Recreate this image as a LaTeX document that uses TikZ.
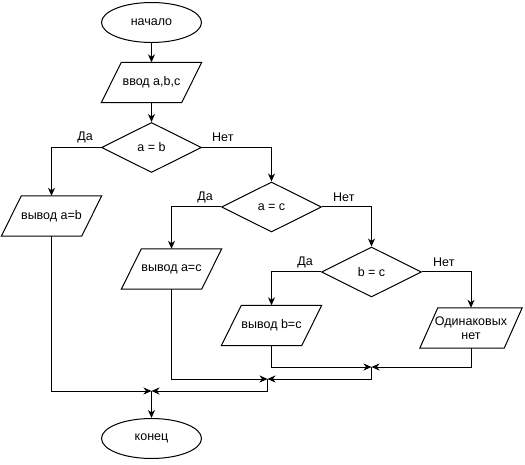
\documentclass[tikz,border=0pt]{standalone}
\usepackage{fontspec}
\setmainfont{Liberation Sans}
\usetikzlibrary{shapes.geometric,arrows.meta,calc}
\begin{document}
\begin{tikzpicture}[x=1pt,y=-1pt,
  every node/.style={font=\fontsize{12.5pt}{14pt}\selectfont, inner sep=0pt},
  term/.style={ellipse, draw, line width=1pt, minimum width=100pt, minimum height=40pt},
  iobox/.style={rectangle, minimum width=80pt, minimum height=40pt, align=center},
  cond/.style={diamond, draw, line width=1pt, aspect=2, minimum width=100pt, minimum height=50pt},
  lbl/.style={font=\fontsize{12.5pt}{14pt}\selectfont},
  conn/.style={line width=1pt, -{Stealth[length=8pt,width=7pt,inset=2.5pt]}},
  plain/.style={line width=1pt}]
\useasboundingbox (0,0) rectangle (525,465);
% nodes
\node[term] (start) at (151.5,22.5) {начало};
\node[iobox] (in) at (151.5,82.5) {ввод a,b,c};
\node[cond] (d1) at (151.5,147.5) {a = b};
\node[iobox] (o1) at (51.5,216) {вывод a=b};
\node[cond] (d2) at (271.5,207) {a = c};
\node[iobox] (o2) at (171.5,269) {вывод a=c};
\node[cond] (d3) at (371.5,272) {b = c};
\node[iobox] (o3) at (271.5,325.5) {вывод b=c};
\node[iobox, minimum width=84pt] (o4) at (471,328) {Одинаковых\\нет};
\node[term] (end) at (151.5,438.5) {конец};
\coordinate (j1) at (371.5,367);
\coordinate (j2) at (267.5,379);
\coordinate (j3) at (151.5,391);
% parallelogram outlines
\foreach \n in {in,o1,o2,o3}{
  \draw[plain, line join=miter] ([xshift=-10pt]\n.south west) -- ([xshift=-10pt]\n.south east)
    -- ([xshift=10pt]\n.north east) -- ([xshift=10pt]\n.north west) -- cycle;
}
\draw[plain, line join=miter] ([xshift=-9pt]o4.south west) -- ([xshift=-9pt]o4.south east)
    -- ([xshift=9pt]o4.north east) -- ([xshift=9pt]o4.north west) -- cycle;
% labels
\node[lbl, anchor=east] (l1) at ([xshift=-8pt,yshift=10pt]d1.west) {Да};
\node[lbl, anchor=west] (l2) at ([xshift=10pt,yshift=10pt]d1.east) {Нет};
\node[lbl, anchor=east] (l3) at ([xshift=-8pt,yshift=10pt]d2.west) {Да};
\node[lbl, anchor=west] (l4) at ([xshift=11pt,yshift=10pt]d2.east) {Нет};
\node[lbl, anchor=east] (l5) at ([xshift=-8pt,yshift=10pt]d3.west) {Да};
\node[lbl, anchor=west] (l6) at ([xshift=11pt,yshift=10pt]d3.east) {Нет};
% connectors
\draw[conn] (start) -- (in);
\draw[conn] (in) -- (d1);
\draw[conn] (d1.west) -| (o1.north);
\draw[conn] (d1.east) -| (d2.north);
\draw[conn] (d2.west) -| (o2.north);
\draw[conn] (d2.east) -| (d3.north);
\draw[conn] (d3.west) -| (o3.north);
\draw[conn] (d3.east) -| (o4.north);
\draw[conn] (o3.south) |- (j1);
\draw[conn] (o4.south) |- (j1);
\draw[conn] (j1) |- (j2);
\draw[conn] (o2.south) |- (j2);
\draw[conn] (j2) |- (j3);
\draw[conn] (o1.south) |- (j3);
\draw[conn] (j3) -- (end);
\end{tikzpicture}
\end{document}
